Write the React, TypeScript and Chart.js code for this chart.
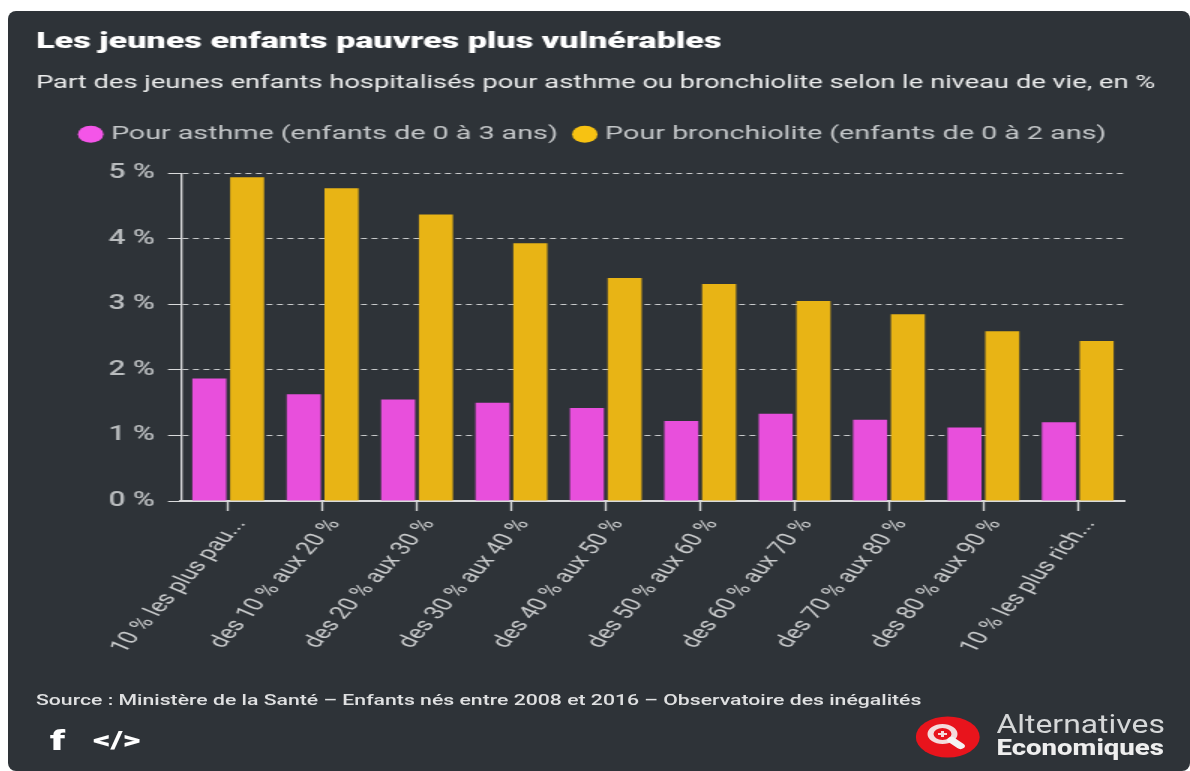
import React, { useEffect, useRef } from "react";
import { Chart, registerables } from "chart.js";

Chart.register(...registerables);

const categories = [
  "10 % les plus pau...",
  "des 10 % aux 20 %",
  "des 20 % aux 30 %",
  "des 30 % aux 40 %",
  "des 40 % aux 50 %",
  "des 50 % aux 60 %",
  "des 60 % aux 70 %",
  "des 70 % aux 80 %",
  "des 80 % aux 90 %",
  "10 % les plus rich...",
];
const asthme = [1.87, 1.63, 1.55, 1.5, 1.42, 1.22, 1.33, 1.24, 1.12, 1.2];
const bronchiolite = [4.94, 4.77, 4.37, 3.93, 3.4, 3.31, 3.05, 2.85, 2.59, 2.44];
const asthmeLabel = "Pour asthme (enfants de 0 à 3 ans)";
const bronchioliteLabel = "Pour bronchiolite (enfants de 0 à 2 ans)";
const titleText = "Les jeunes enfants pauvres plus vulnérables";
const subtitleText = "Part des jeunes enfants hospitalisés pour asthme ou bronchiolite selon le niveau de vie, en %";
const sourceText = "Source : Ministère de la Santé – Enfants nés entre 2008 et 2016 – Observatoire des inégalités";
const legendMarkers = ["#f455e8", "#f7c212"];

const PANEL = "#2e3338";
const STRETCH = 1.5;
const W = 1182 / STRETCH;
const H = 760;

const legendTweak = {
  id: "legendTweak",
  start(chart: any) {
    const legend = chart.legend;
    const fit = legend.fit;
    legend.fit = function () {
      fit.call(this);
      this.height += 19.5;
    };
  },
  afterLayout(chart: any) {
    chart.legend.left += 10;
    chart.legend.right += 10;
    // Let the title blocks run past the plot's right edge instead of being squeezed to it.
    chart.boxes.forEach((box: any) => {
      if (box.options && box.options.text) box.right = W;
    });
  },
};

export default function App() {
  const ref = useRef<HTMLCanvasElement>(null);
  useEffect(() => {
    const chart = new Chart(ref.current!, {
      type: "bar",
      plugins: [legendTweak],
      data: {
        labels: categories,
        datasets: [
          { label: asthmeLabel, data: asthme, backgroundColor: "#e84fdc", categoryPercentage: 0.8, barPercentage: 0.9 },
          { label: bronchioliteLabel, data: bronchiolite, backgroundColor: "#e8b415", categoryPercentage: 0.8, barPercentage: 0.9 },
        ],
      },
      options: {
        animation: false,
        responsive: false,
        layout: { padding: { left: 18.67, right: 43.33, top: 0, bottom: 0 } },
        plugins: {
          tooltip: { enabled: false },
          title: {
            display: true,
            text: titleText,
            align: "start",
            color: "#ffffff",
            font: { family: "Roboto", size: 22.8, weight: "900" },
            padding: { top: 18, bottom: 16 },
          },
          subtitle: {
            display: true,
            text: subtitleText,
            align: "start",
            color: "#eceded",
            font: { family: "Roboto", size: 18.2, weight: "400" },
            padding: { top: 0, bottom: 16.4 },
          },
          legend: {
            display: true,
            position: "top",
            labels: {
              usePointStyle: true,
              pointStyle: "circle",
              boxWidth: 8,
              boxHeight: 12,
              padding: 14,
              color: "#c4c7c9",
              font: { family: "Roboto", size: 19.1 },
              generateLabels(c: any) {
                return Chart.defaults.plugins.legend.labels.generateLabels(c).map((item: any, i: number) => ({
                  ...item,
                  fillStyle: legendMarkers[i],
                  strokeStyle: legendMarkers[i],
                }));
              },
            },
          },
        },
        scales: {
          x: {
            offset: true,
            afterFit(scale: any) {
              scale.height = 270;
            },
            border: { color: "#d9dadb", width: 2 },
            grid: { offset: false, drawOnChartArea: false, drawTicks: true, tickLength: 10, tickColor: "#d9dadb", tickWidth: 1.33 },
            ticks: {
              autoSkip: false,
              maxRotation: 58,
              minRotation: 58,
              padding: 4,
              labelOffset: 8,
              color: "#c8cacb",
              font: { family: "Roboto", size: 18.2, weight: "400" },
            },
          },
          y: {
            min: 0,
            max: 5,
            afterFit(scale: any) {
              scale.width = 96.67;
            },
            border: { color: "#d9dadb", width: 1.33, dash: [4, 3] },
            grid: { color: "#c8cacb", lineWidth: 1, tickColor: "#d9dadb", tickLength: 8.67, tickBorderDash: [] },
            ticks: {
              stepSize: 1,
              padding: 8.67,
              color: "#b9bcbe",
              font: { family: "Roboto", size: 20, weight: "500" },
              callback: (v: any) => `${v} %`,
            },
          },
        },
      } as any,
    });
    return () => chart.destroy();
  }, []);

  return (
    <div style={{ position: "absolute", left: 8, top: 11, width: 1182, height: 760, background: PANEL, borderRadius: 8, overflow: "hidden" }}>
      <div style={{ position: "absolute", left: 0, top: 0, width: W, height: H, transform: `scaleX(${STRETCH})`, transformOrigin: "0 0" }}>
        <canvas ref={ref} width={W} height={H} style={{ display: "block" }} />
        <div style={{ position: "absolute", left: 18.67, top: 680, whiteSpace: "nowrap", color: "#dfe0e1", font: "500 14.15px Roboto", lineHeight: "18px" }}>{sourceText}</div>
        <div style={{ position: "absolute", left: 28, top: 714, color: "#ffffff", font: "900 28px Roboto", lineHeight: "32px" }}>f</div>
        <div style={{ position: "absolute", left: 56.7, top: 716, color: "#ffffff", font: "900 23px Roboto", lineHeight: "28px" }}>&lt;/&gt;</div>
        <svg style={{ position: "absolute", left: 605.3, top: 705 }} width={43} height={42} viewBox="0 0 43 42">
          <ellipse cx={21.5} cy={21} rx={21.3} ry={20.5} fill="#e8141c" />
          <circle cx={18} cy={18} r={8} fill="none" stroke="#f4dcdc" strokeWidth={4} />
          <path d="M15 18h6M18 15v6" stroke="#f4dcdc" strokeWidth={2} />
          <path d="M24 24l6 6" stroke="#f4f4f4" strokeWidth={6} strokeLinecap="round" />
        </svg>
        <div style={{ position: "absolute", left: 659, top: 699, color: "#d5d7d8", font: "400 26px Roboto", lineHeight: "28px", whiteSpace: "nowrap", transform: "scaleX(0.817)", transformOrigin: "0 0" }}>Alternatives</div>
        <div style={{ position: "absolute", left: 659, top: 725, color: "#eeeeee", font: "800 22px Roboto", lineHeight: "24px", whiteSpace: "nowrap", transform: "scaleX(0.835)", transformOrigin: "0 0" }}>Economiques</div>
      </div>
    </div>
  );
}
